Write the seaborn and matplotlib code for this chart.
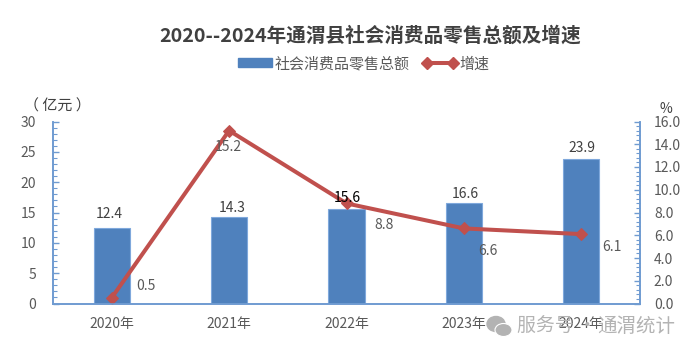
import numpy as np
import pandas as pd
import seaborn as sns
import matplotlib.pyplot as plt
from matplotlib.lines import Line2D
from matplotlib.patches import Patch, Ellipse
from matplotlib.ticker import MultipleLocator

years = ['2020年', '2021年', '2022年', '2023年', '2024年']
total = [12.4, 14.3, 15.6, 16.6, 23.9]
growth = [0.5, 15.2, 8.8, 6.6, 6.1]

W, H = 697, 354
GREY = '#595959'
BLUE = '#4f81bd'
RED = '#c0504d'
AXIS = '#6f9bd1'

sns.set_style('white')
plt.rcParams['font.family'] = ['Noto Sans CJK SC', 'DejaVu Sans']

df = pd.DataFrame({'year': years, 'total': total, 'growth': growth, 'pos': range(len(years))})

fig = plt.figure(figsize=(W / 100, H / 100), dpi=100)
ax = fig.add_axes([53 / W, 1 - 303.5 / H, 587 / W, 182 / H])

# barras
sns.barplot(data=df, x='year', y='total', color=BLUE, width=0.31, saturation=1,
            edgecolor='#7fa8dc', linewidth=0.8, ax=ax)
ax.set_xlim(-0.5, 4.5)
ax.set_ylim(0, 30)
ax.set_xlabel('')
ax.set_ylabel('')

# linea en el eje derecho
ax2 = ax.twinx()
sns.lineplot(data=df, x='pos', y='growth', color=RED, linewidth=2.9, marker='D', markersize=6.5,
             markeredgecolor=RED, sort=False, ax=ax2)
ax2.set_ylim(0, 16)
ax2.set_xlabel('')
ax2.set_ylabel('')

# ejes
ax.yaxis.set_major_locator(MultipleLocator(5))
ax.yaxis.set_minor_locator(MultipleLocator(1))
ax2.yaxis.set_major_locator(MultipleLocator(2))
ax2.yaxis.set_minor_locator(MultipleLocator(0.4))
ax2.yaxis.set_major_formatter('{x:.1f}')
ax.tick_params(axis='x', length=0, pad=10, labelsize=10, labelcolor=GREY)
ax.tick_params(axis='y', which='major', left=True, direction='in', length=4.5, width=1, color=AXIS,
               pad=12, labelsize=10, labelcolor=GREY)
ax.tick_params(axis='y', which='minor', left=True, direction='in', length=3.2, width=0.8, color=AXIS)
ax2.tick_params(axis='y', which='major', right=True, direction='in', length=4.5, width=1, color=AXIS,
                pad=10, labelsize=10, labelcolor=GREY)
ax2.tick_params(axis='y', which='minor', right=True, direction='in', length=3.2, width=0.8, color=AXIS)
for a in [ax, ax2]:
    a.spines['top'].set_visible(False)
    for s in ['left', 'right', 'bottom']:
        a.spines[s].set_color(AXIS)
        a.spines[s].set_linewidth(1.2)

# etiquetas de valores
bar_off = [(-2, 7), (3, 2), (1, 4), (1, 2), (1, 4)]
for i, v in enumerate(total):
    col = 'black' if i == 2 else '#404040'
    ax2.annotate(f'{v}', (i, v * 16 / 30), xytext=(bar_off[i][0] * 0.72, bar_off[i][1] * 0.72),
                 textcoords='offset points', ha='center', va='bottom', fontsize=10, color=col, zorder=6)
line_off = [(34, 12), (-1, -16), (38, -22), (24, -23), (31, -13)]
for i, v in enumerate(growth):
    ax2.annotate(f'{v}', (i, v), xytext=(line_off[i][0] * 0.72, line_off[i][1] * 0.72),
                 textcoords='offset points', ha='center', va='center', fontsize=10, color=GREY, zorder=6)

# titulo, leyenda y unidades
fig.text(370 / W, 1 - 36 / H, '2020--2024年通渭县社会消费品零售总额及增速', ha='center', va='center',
         fontsize=14.1, fontweight='bold', color='#404040')
handles = [Patch(facecolor=BLUE, edgecolor=BLUE),
           Line2D([0], [0], color=RED, linewidth=2.9, marker='D', markersize=6)]
fig.legend(handles, ['社会消费品零售总额', '增速'], ncol=2, frameon=False, fontsize=10.8, labelcolor=GREY,
           loc='center', bbox_to_anchor=(363.5 / W, 1 - 64 / H), numpoints=2, handlelength=2.3,
           handleheight=0.55, handletextpad=0.13, columnspacing=0.9, borderpad=0, borderaxespad=0)
fig.text(57 / W, 1 - 106 / H, '（ 亿元 ）', ha='center', va='center', fontsize=10.8, color='#404040')
fig.text(666 / W, 1 - 109 / H, '%', ha='center', va='center', fontsize=10, color='#404040')

# marca de agua
wm = '#b3b3b3'
fig.text(517 / W, 1 - 326 / H, '服务号 ·', ha='left', va='center', fontsize=13.6, color=wm, zorder=10)
fig.text(597 / W, 1 - 326 / H, '通渭统计', ha='left', va='center', fontsize=14, color=wm, zorder=10)
fig.add_artist(Ellipse((496 / W, 1 - 324 / H), 18 / W, 15 / H, transform=fig.transFigure, color=wm, zorder=10))
fig.add_artist(Ellipse((503.5 / W, 1 - 330 / H), 17 / W, 13 / H, transform=fig.transFigure, facecolor=wm,
                       edgecolor='white', linewidth=0.8, zorder=10))

fig.savefig('out.png', dpi=100)
